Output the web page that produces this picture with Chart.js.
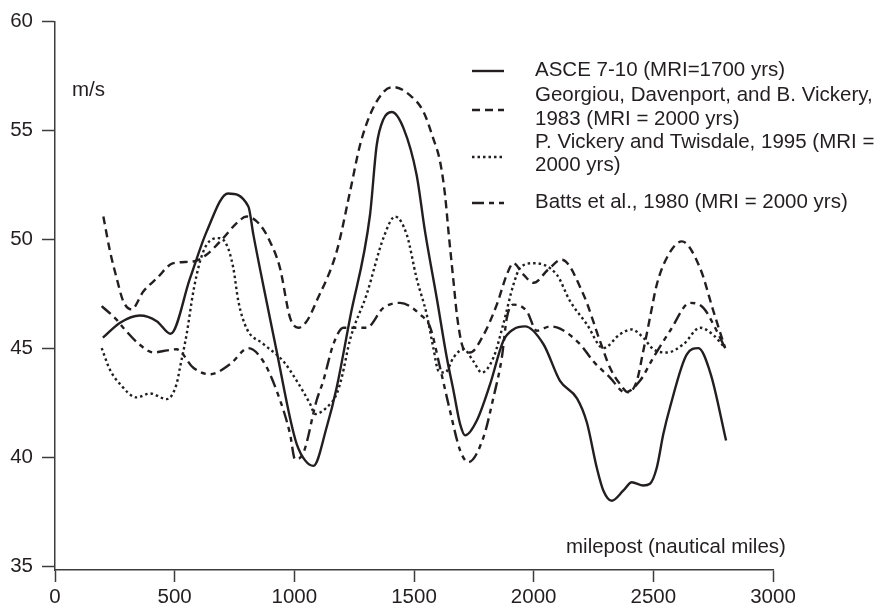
<!DOCTYPE html>
<html>
<head>
<meta charset="utf-8">
<script src="https://cdn.jsdelivr.net/npm/chart.js@4/dist/chart.umd.min.js"></script>
<style>
  html, body { margin: 0; padding: 0; background: #fff; }
  canvas { display: block; }
</style>
</head>
<body>
<canvas id="chart" width="895" height="607"></canvas>
<script>
const xTicks = [0, 500, 1000, 1500, 2000, 2500, 3000];
const yTicks = [35, 40, 45, 50, 55, 60];

const seriesNames = [
  ['ASCE 7-10 (MRI=1700 yrs)'],
  ['Georgiou, Davenport, and B. Vickery,', '1983 (MRI = 2000 yrs)'],
  ['P. Vickery and Twisdale, 1995 (MRI =', '2000 yrs)'],
  ['Batts et al., 1980 (MRI = 2000 yrs)']
];

// ASCE 7-10 (solid)
const asceMiles = [200, 272, 355, 425, 483, 564, 634, 723, 808, 829, 870, 926, 982, 1010, 1045, 1080, 1135, 1177, 1233, 1316, 1344, 1372, 1407, 1456, 1511, 1546, 1595, 1637, 1665, 1693, 1714, 1762, 1818, 1873, 1915, 1964, 2041, 2110, 2181, 2222, 2264, 2291, 2326, 2375, 2410, 2458, 2486, 2514, 2542, 2570, 2640, 2688, 2740, 2804];
const asceSpeed = [45.48, 46.17, 46.5, 46.24, 45.66, 48.2, 50.36, 52.1, 51.5, 50.2, 47.9, 44.87, 41.8, 40.6, 39.85, 39.6, 41.37, 43.2, 46.4, 51.1, 54.3, 55.5, 55.84, 55.1, 52.95, 50.36, 47.3, 44.57, 43.05, 41.5, 41.0, 41.67, 43.35, 45.33, 45.86, 46.0, 45.18, 43.5, 42.7, 41.6, 39.5, 38.47, 38.0, 38.47, 38.85, 38.7, 38.78, 39.5, 41.07, 42.3, 44.72, 45.0, 43.8, 40.76];

// Georgiou et al. 1983 (dashed)
const georgMiles = [202, 230, 258, 285, 320, 369, 425, 494, 578, 634, 703, 759, 801, 857, 898, 940, 982, 1017, 1052, 1093, 1177, 1233, 1274, 1316, 1372, 1414, 1484, 1540, 1581, 1609, 1630, 1644, 1665, 1679, 1700, 1714, 1734, 1790, 1846, 1888, 1915, 1957, 2000, 2060, 2117, 2208, 2277, 2319, 2361, 2396, 2431, 2458, 2486, 2514, 2556, 2619, 2695, 2751, 2800];
const georgSpeed = [51.04, 49.44, 48.2, 47.16, 46.78, 47.6, 48.2, 48.9, 48.98, 49.3, 50.05, 50.74, 51.04, 50.66, 49.9, 48.68, 46.4, 45.94, 46.24, 47.16, 49.44, 52.2, 54.3, 55.7, 56.75, 56.98, 56.6, 55.84, 54.6, 53.56, 52.0, 50.36, 48.07, 46.55, 45.18, 44.87, 44.8, 45.6, 47.0, 48.38, 48.9, 48.38, 48.0, 48.6, 49.06, 47.46, 45.33, 44.1, 43.35, 42.97, 43.5, 44.87, 46.4, 47.9, 49.14, 49.9, 48.68, 46.7, 45.0];

// Vickery and Twisdale 1995 (dotted)
const vickMiles = [195, 230, 272, 341, 397, 467, 508, 522, 550, 578, 606, 634, 683, 717, 745, 766, 801, 870, 954, 1010, 1066, 1087, 1135, 1177, 1198, 1233, 1302, 1372, 1421, 1470, 1511, 1553, 1581, 1602, 1630, 1665, 1707, 1748, 1783, 1832, 1873, 1915, 1943, 2000, 2096, 2152, 2222, 2291, 2361, 2410, 2458, 2500, 2556, 2626, 2695, 2751, 2800];
const vickSpeed = [45.0, 44.0, 43.35, 42.74, 42.92, 42.66, 43.35, 44.1, 45.64, 47.6, 48.98, 49.75, 50.05, 49.75, 48.68, 47.16, 45.9, 45.2, 44.4, 43.5, 42.44, 41.98, 42.28, 42.9, 43.65, 45.4, 47.46, 50.05, 51.04, 50.2, 48.2, 46.55, 45.0, 43.96, 43.88, 44.57, 44.95, 44.4, 43.88, 44.57, 46.1, 47.9, 48.68, 48.9, 48.38, 47.16, 46.1, 45.0, 45.64, 45.86, 45.48, 44.95, 44.8, 45.18, 45.94, 45.6, 45.0];

// Batts et al. 1980 (dash-dot)
const battsMiles = [195, 258, 285, 350, 411, 470, 508, 578, 648, 731, 808, 870, 926, 982, 1003, 1038, 1093, 1121, 1163, 1205, 1302, 1372, 1442, 1525, 1568, 1609, 1651, 1693, 1727, 1790, 1832, 1867, 1888, 1915, 1971, 2013, 2069, 2110, 2194, 2249, 2319, 2382, 2444, 2500, 2570, 2654, 2709, 2758, 2800];
const battsSpeed = [46.93, 46.3, 45.94, 45.2, 44.8, 44.9, 44.95, 44.1, 43.8, 44.26, 45.0, 44.4, 43.05, 41.07, 39.9, 40.2, 42.6, 43.5, 45.18, 45.94, 45.94, 46.85, 47.08, 46.55, 45.94, 44.1, 42.1, 40.3, 39.77, 40.9, 42.74, 44.57, 46.4, 47.0, 46.7, 45.8, 46.0, 45.9, 45.18, 44.4, 43.65, 42.97, 43.5, 44.57, 45.8, 47.08, 46.85, 45.94, 45.0];

const ink = '#231f20';
const axisInk = '#3c3c3c';
const fontFamily = '"Liberation Sans", Arial, Helvetica, sans-serif';

function pts(xs, ys) {
    return xs.map((x, i) => ({ x: x, y: ys[i] }));
}

function makeSet(name, xs, ys, dash) {
    return {
        label: name.join(' '),
        data: pts(xs, ys),
        borderColor: ink,
        borderWidth: 2.4,
        borderDash: dash,
        borderCapStyle: 'butt',
        pointRadius: 0,
        fill: false,
        cubicInterpolationMode: 'monotone'
    };
}

const datasets = [
    makeSet(seriesNames[0], asceMiles, asceSpeed, []),
    makeSet(seriesNames[1], georgMiles, georgSpeed, [8, 5]),
    makeSet(seriesNames[2], vickMiles, vickSpeed, [2.5, 3]),
    makeSet(seriesNames[3], battsMiles, battsSpeed, [12, 5, 5, 5, 5, 5])
];

// legend and in-plot axis labels
const annotations = {
    id: 'annotations',
    afterDraw(chart) {
        const ctx = chart.ctx;
        ctx.save();
        ctx.fillStyle = ink;
        ctx.font = '20.5px ' + fontFamily;
        ctx.textBaseline = 'middle';
        ctx.textAlign = 'left';
        ctx.fillText('m/s', 72, 90);
        ctx.fillText('milepost (nautical miles)', 566, 547);

        const rows = [
            { line: 71, text: [70] },
            { line: 110, text: [95, 119] },
            { line: 157, text: [142, 165] },
            { line: 203, text: [202] }
        ];
        rows.forEach((r, i) => {
            const ds = chart.data.datasets[i];
            ctx.strokeStyle = ink;
            ctx.lineWidth = ds.borderWidth;
            ctx.setLineDash(ds.borderDash);
            ctx.beginPath();
            ctx.moveTo(472, r.line);
            ctx.lineTo(504, r.line);
            ctx.stroke();
            ctx.setLineDash([]);
            seriesNames[i].forEach((t, j) => ctx.fillText(t, 535, r.text[j]));
        });
        ctx.restore();
    }
};

new Chart(document.getElementById('chart'), {
    type: 'line',
    data: { datasets: datasets },
    options: {
        responsive: false,
        animation: false,
        layout: { padding: { top: 19, right: 122, left: 0, bottom: 0 } },
        plugins: { legend: { display: false }, tooltip: { enabled: false } },
        scales: {
            x: {
                type: 'linear',
                min: 0,
                max: 3000,
                afterBuildTicks: s => { s.ticks = xTicks.map(v => ({ value: v })); },
                afterFit: s => { s.height = 37; },
                grid: { drawOnChartArea: false, drawTicks: true, tickLength: 12, tickColor: axisInk, tickWidth: 1.5 },
                border: { display: true, color: axisInk, width: 1.5 },
                ticks: { color: ink, font: { family: fontFamily, size: 20.5 }, padding: 3, maxRotation: 0, callback: v => String(v) }
            },
            y: {
                type: 'linear',
                min: 34.82,
                max: 60,
                afterBuildTicks: s => { s.ticks = yTicks.map(v => ({ value: v })); },
                afterFit: s => { s.width = 55; },
                grid: { drawOnChartArea: false, drawTicks: true, tickLength: 13, tickColor: axisInk, tickWidth: 1.5 },
                border: { display: true, color: axisInk, width: 1.5 },
                ticks: { color: ink, font: { family: fontFamily, size: 20.5 }, padding: 9, callback: v => String(v) }
            }
        }
    },
    plugins: [annotations]
});
</script>
</body>
</html>
